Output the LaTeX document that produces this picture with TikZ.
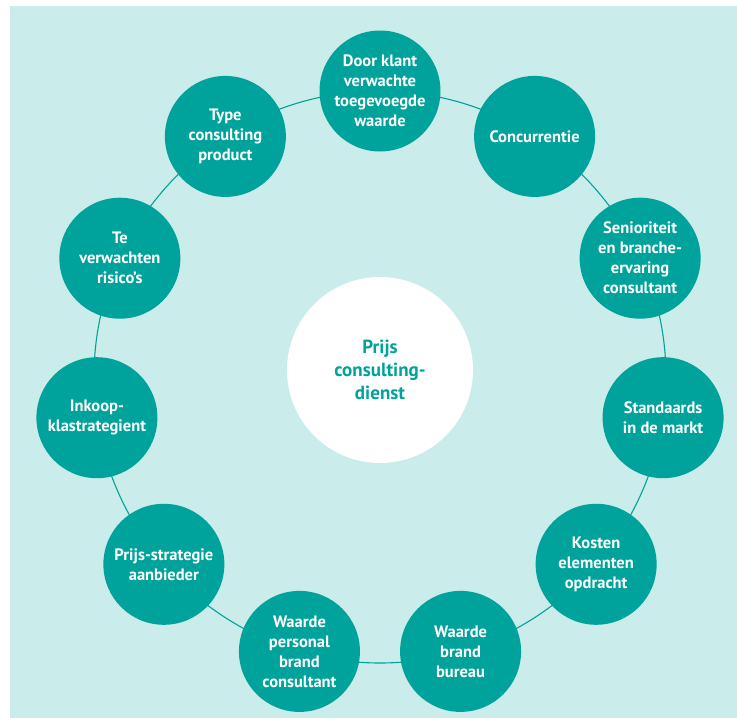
\documentclass[tikz,border=0pt]{standalone}
\usepackage{fontspec}
\setmainfont{PT Sans}
\definecolor{petrol}{HTML}{00A39B}
\definecolor{mist}{HTML}{CAECEA}
\begin{document}
\begin{tikzpicture}[x=1pt,y=-1pt,
  factor/.style={circle, fill=petrol, minimum size=121pt, inner sep=0pt,
    text=white, align=center, font=\bfseries\fontsize{16.5}{20}\selectfont},
  hub/.style={circle, fill=white, minimum size=186pt, inner sep=0pt,
    text=petrol, align=center, font=\bfseries\fontsize{19}{23}\selectfont},
  ringline/.style={draw=petrol, line width=1.1pt}]
\useasboundingbox (0,0) rectangle (737,718);
\fill[mist] (10,6) rectangle (737,718);
% ring of factors around the centre
\coordinate (ring) at (380,377);
\draw[ringline] (ring) circle[radius=286];
\node[hub] (hub) at (380,370) {Prijs\\consulting-\\dienst};
\begin{scope}[shift={(380,377)}]
\foreach \k/\txt in {
  0/{Door klant\\verwachte\\toegevoegde\\waarde},
  1/{Concurrentie},
  2/{Senioriteit\\en branche-\\ervaring\\consultant},
  3/{Standaards\\in de markt},
  4/{Kosten\\elementen\\opdracht},
  5/{Waarde\\brand\\bureau},
  6/{Waarde\\personal\\brand\\consultant},
  7/{Prijs-strategie\\aanbieder},
  8/{Inkoop-\\klastrategient},
  9/{Te\\verwachten\\risico’s},
  10/{Type\\consulting\\product}}
  \node[factor] (f\k) at ({-90+32.727*\k}:286) {\txt};
\end{scope}
\end{tikzpicture}
\end{document}
